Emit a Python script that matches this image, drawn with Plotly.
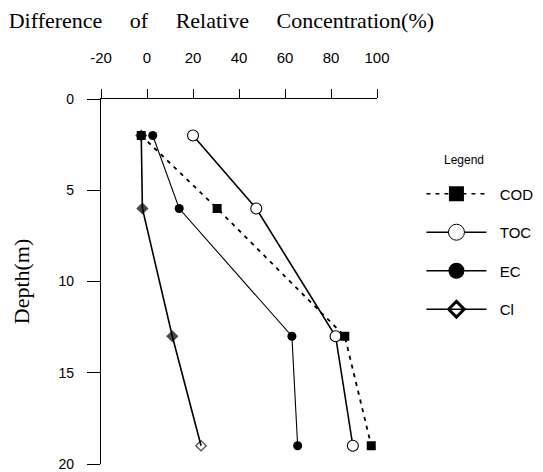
import plotly.graph_objects as go

depth = [2, 6, 13, 19]
cod = [-2.5, 30.5, 86, 97.5]
toc = [20, 47.5, 82, 89.5]
ec = [2.5, 14, 63, 65.5]
cl = [-2.5, -2, 11, 23.5]

x_ticks = [-20, 0, 20, 40, 60, 80, 100]
x_labels = ["-20", "0", "20", "40", "60", "80", "100"]
y_ticks = [0, 5, 10, 15, 20]

serif = "Liberation Serif, Times New Roman, serif"
sans = "Liberation Sans, Arial, sans-serif"
gap = "\u00a0" * 4 + " "
pad = "\u00a0\u00a0"

fig = go.Figure()

# data traces (legend drawn separately with bigger markers)
fig.add_trace(go.Scatter(x=cl, y=depth, mode="lines+markers", showlegend=False,
                         line=dict(color="black", width=1.6),
                         marker=dict(symbol=["diamond", "diamond", "diamond", "diamond-open"],
                                     size=[8, 8, 8, 8], color="black", line=dict(width=1.3, color="black"))))
fig.add_trace(go.Scatter(x=ec, y=depth, mode="lines+markers", showlegend=False,
                         line=dict(color="black", width=1.1),
                         marker=dict(symbol="circle", size=9, color="black")))
fig.add_trace(go.Scatter(x=toc, y=depth, mode="lines+markers", showlegend=False,
                         line=dict(color="black", width=1.6),
                         marker=dict(symbol="circle", size=11, color="white",
                                     line=dict(width=1.1, color="black"))))
fig.add_trace(go.Scatter(x=cod, y=depth, mode="lines+markers", showlegend=False,
                         line=dict(color="black", width=1.8, dash="4px,5px"),
                         marker=dict(symbol="square", size=9, color="black")))

# legend entries
legend_items = [
    ("COD", dict(symbol="square", size=15, color="black"), dict(color="black", width=1.5, dash="4px,5px")),
    ("TOC", dict(symbol="circle", size=16, color="white", line=dict(width=1, color="black")), dict(color="black", width=1.5)),
    ("EC", dict(symbol="circle", size=16, color="black"), dict(color="black", width=1.5)),
    ("Cl", dict(symbol="diamond-open", size=12, color="black", line=dict(width=3, color="black")), dict(color="black", width=1.5)),
]
for i, (name, mk, ln) in enumerate(legend_items):
    fig.add_trace(go.Scatter(x=[None], y=[None], mode="lines+markers", name=pad + name,
                             legendgroup=str(i), marker=mk, line=ln))

fig.update_layout(
    width=543, height=472,
    paper_bgcolor="white", plot_bgcolor="white",
    margin=dict(l=93, r=165, t=91, b=16),  # page body adds 8px offset
    font=dict(family=sans, size=15, color="black"),
    title=dict(text=gap.join(["Difference", "of", "Relative", "Concentration(%)"]),
               x=0.393, xanchor="center", y=0.975, yanchor="middle",
               font=dict(family=serif, size=22, color="black")),
    xaxis=dict(
        side="top", range=[-20, 100], tickvals=x_ticks, ticktext=x_labels,
        showgrid=False, zeroline=False, automargin=False,
        showline=True, linecolor="black", linewidth=1,
        ticks="outside", ticklen=9, tickcolor="black",
        ticklabelstandoff=20,
        tickfont=dict(family=sans, size=15),
    ),
    yaxis=dict(
        range=[20, 0], tickvals=y_ticks,
        showgrid=False, zeroline=False, automargin=False,
        showline=True, linecolor="black", linewidth=1.2,
        ticks="outside", ticklen=13, tickcolor="black",
        ticklabelstandoff=10,
        tickfont=dict(family=sans, size=14),
        title=dict(text="Depth(m)", font=dict(family=serif, size=22), standoff=22),
    ),
    legend=dict(
        x=1.161, y=0.785, xanchor="left", yanchor="top",
        traceorder="grouped", tracegroupgap=16,
        font=dict(family=sans, size=15),
        itemwidth=60,
    ),
    annotations=[dict(text="Legend", xref="paper", yref="paper", x=1.315, y=0.834,
                      xanchor="center", yanchor="middle", showarrow=False,
                      font=dict(family=sans, size=12))],
)

fig.write_html("out.html")
